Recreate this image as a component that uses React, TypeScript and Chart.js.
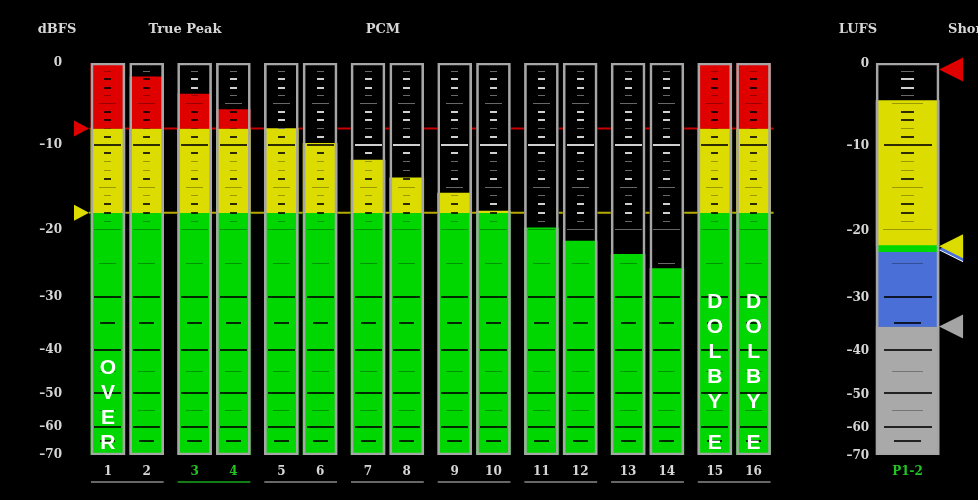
import React, { useEffect, useRef } from 'react';
import { Chart, registerables, LinearScale } from 'chart.js';

// ---------------- data ----------------
const CHANNELS = ['1', '2', '3', '4', '5', '6', '7', '8', '9', '10', '11', '12', '13', '14', '15', '16'];
const CHANNEL_LEVELS = [0, -1.7, -3.8, -5.7, -8, -9.8, -11.8, -13.9, -15.7, -17.8, -19.8, -21.7, -23.7, -25.8, 0, 0];
const CHANNEL_TEXT = ['OVER', '', '', '', '', '', '', '', '', '', '', '', '', '', 'DOLBY E', 'DOLBY E'];
const HIGHLIGHT_CHANNELS = ['3', '4'];
const DB_TICKS = [0, -10, -20, -30, -40, -50, -60, -70];
// meter law: fraction of meter height (from bottom) at each DB_TICKS value
const METER_LAW = [1, 0.791, 0.575, 0.404, 0.268, 0.157, 0.072, 0];
const RED_LIMIT = -8;
const YELLOW_LIMIT = -18;
const METER_FLOOR = -70;
const METER_TOP = 0;
const HEADERS = ['dBFS', 'True Peak', 'PCM', 'LUFS', 'Short Term'];
const LUFS_LABEL = 'P1-2';
const LUFS_BOUNDS = [-70, -35.6, -23.3, -22.3, -4.6];
const LUFS_MARKERS = [-0.8, -22.5, -35.6];
const MARK_DB = [-1, -2, -3, -4, -5, -6, -7, -8, -9, -10, -11, -12, -13, -14, -15, -16, -17, -18, -19, -20, -25, -30, -35, -40, -45, -50, -55, -60, -65];
const MARK_KIND = ['t', 's', 's', 't', 'm', 's', 's', 't', 's', 'L', 's', 't', 't', 's', 'm', 't', 's', 's', 't', 'l', 'm', 'L', 'M', 'L', 'm', 'L', 'm', 'L', 'M'];

// ---------------- styles ----------------
const RED = '#df0000';
const YELLOW = '#dcdc00';
const GREEN = '#00d600';
const BLUE = '#4a70d8';
const GREY = '#a9a9a9';
const LUFS_COLORS = [GREY, BLUE, GREEN, YELLOW];
const MARKER_COLORS = [RED, YELLOW, '#a4a4a4'];
const TEXT = '#d6d6d6';
const TEXT_GREEN = '#22c422';
const SERIF = '"DejaVu Serif", "Liberation Serif", serif';
const CH_W = 34;
const LUFS_W = 63;
const PAIR_STEP = 2.237;
const chPos = (i: number) => Math.floor(i / 2) * PAIR_STEP + (i % 2);
const LUFS_POS = 9 * PAIR_STEP + 0.5;

const X_POSITIONS = [...CHANNELS.map((_, i) => chPos(i)), LUFS_POS];
const X_LABELS = [...CHANNELS, LUFS_LABEL];
const X_COLORS = [...CHANNELS.map((c) => (HIGHLIGHT_CHANNELS.includes(c) ? TEXT_GREEN : TEXT)), TEXT_GREEN];

const KIND_STYLE: Record<string, { w: number; h: number; heavy: boolean }> = {
  L: { w: 0.78, h: 2, heavy: true },
  l: { w: 0.8, h: 1, heavy: false },
  m: { w: 0.5, h: 1, heavy: false },
  M: { w: 0.45, h: 2, heavy: true },
  s: { w: 0.22, h: 2, heavy: true },
  t: { w: 0.22, h: 1, heavy: false },
};

function dbToDecimal(v: number) {
  if (v >= DB_TICKS[0]) return METER_LAW[0];
  for (let i = 1; i < DB_TICKS.length; i++) {
    if (v >= DB_TICKS[i]) {
      const f = (DB_TICKS[i - 1] - v) / (DB_TICKS[i - 1] - DB_TICKS[i]);
      return METER_LAW[i - 1] + f * (METER_LAW[i] - METER_LAW[i - 1]);
    }
  }
  return METER_LAW[METER_LAW.length - 1];
}
function decimalToDb(d: number) {
  for (let i = 1; i < METER_LAW.length; i++) {
    if (d >= METER_LAW[i]) {
      const f = (METER_LAW[i - 1] - d) / (METER_LAW[i - 1] - METER_LAW[i]);
      return DB_TICKS[i - 1] + f * (DB_TICKS[i] - DB_TICKS[i - 1]);
    }
  }
  return DB_TICKS[DB_TICKS.length - 1];
}

class MeterScale extends LinearScale {
  static id = 'meter';
  static defaults = {};
  getPixelForValue(value: any) {
    if (value === null || value === undefined || isNaN(value)) return NaN;
    return this.getPixelForDecimal(dbToDecimal(value));
  }
  getValueForPixel(pixel: number) {
    return decimalToDb(this.getDecimalForPixel(pixel));
  }
}

Chart.register(...registerables, MeterScale);

const dbLabel = (v: number) => (v === 0 ? '0' : '\u2013' + Math.abs(v));

function drawMarks(ctx: CanvasRenderingContext2D, y: any, cx: number, barW: number, fillTop: number) {
  MARK_DB.forEach((db, k) => {
    const st = KIND_STYLE[MARK_KIND[k]];
    const inFill = db < fillTop;
    ctx.fillStyle = inFill
      ? st.heavy ? 'rgba(0,0,0,0.8)' : 'rgba(0,0,0,0.3)'
      : st.heavy ? '#cfcfcf' : '#686868';
    const w = Math.round(barW * st.w);
    const py = Math.round(y.getPixelForValue(db) - st.h / 2);
    ctx.fillRect(Math.round(cx - w / 2), py, w, st.h);
  });
}

const meterPlugin = {
  id: 'meterDecor',
  beforeDatasetsDraw(chart: any) {
    const { ctx, scales: { x, y }, chartArea } = chart;
    const left = chartArea.left + 9;
    const right = x.getPixelForValue(chPos(CHANNELS.length - 1)) + CH_W / 2 + 3;
    const lines: [number, string, string][] = [
      [RED_LIMIT, '#c80000', RED],
      [YELLOW_LIMIT, '#b4aa00', YELLOW],
    ];
    ctx.save();
    lines.forEach(([db, lc, tc]) => {
      const py = y.getPixelForValue(db);
      ctx.strokeStyle = lc;
      ctx.lineWidth = 2;
      ctx.beginPath();
      ctx.moveTo(left, py);
      ctx.lineTo(right, py);
      ctx.stroke();
      ctx.fillStyle = tc;
      ctx.beginPath();
      ctx.moveTo(left, py);
      ctx.lineTo(left - 15, py - 8);
      ctx.lineTo(left - 15, py + 8);
      ctx.closePath();
      ctx.fill();
    });
    ctx.restore();
  },
  afterDatasetsDraw(chart: any) {
    const { ctx, scales: { x, y }, chartArea } = chart;
    ctx.save();
    // scale marks inside meters
    CHANNELS.forEach((_, i) => drawMarks(ctx, y, x.getPixelForValue(chPos(i)), CH_W, CHANNEL_LEVELS[i]));
    const lx = x.getPixelForValue(LUFS_POS);
    drawMarks(ctx, y, lx, LUFS_W - 2, LUFS_BOUNDS[LUFS_BOUNDS.length - 1]);

    // vertical status text
    ctx.fillStyle = '#ffffff';
    ctx.font = 'bold 21px "Liberation Sans", Arial, sans-serif';
    ctx.textAlign = 'center';
    ctx.textBaseline = 'middle';
    CHANNEL_TEXT.forEach((t, i) => {
      if (!t) return;
      const cx = x.getPixelForValue(chPos(i));
      let py = chartArea.bottom - 12;
      t.split('').reverse().forEach((ch) => {
        if (ch === ' ') {
          py -= 16;
        } else {
          ctx.fillText(ch, cx, py);
          py -= 25;
        }
      });
    });

    // LUFS markers (right side)
    const mx = lx + LUFS_W / 2;
    const tri = (db: number, color: string, dy = 0) => {
      const py = y.getPixelForValue(db) + dy;
      ctx.fillStyle = color;
      ctx.beginPath();
      ctx.moveTo(mx, py);
      ctx.lineTo(mx + 24, py - 12);
      ctx.lineTo(mx + 24, py + 12);
      ctx.closePath();
      ctx.fill();
    };
    tri(LUFS_MARKERS[1], '#ffffff', 4);
    tri(LUFS_MARKERS[1], BLUE, 3);
    LUFS_MARKERS.forEach((db, i) => tri(db, MARKER_COLORS[i]));

    // LUFS axis labels
    ctx.font = 'bold 12px ' + SERIF;
    ctx.fillStyle = TEXT;
    ctx.textAlign = 'right';
    ctx.textBaseline = 'middle';
    DB_TICKS.forEach((v) => ctx.fillText(dbLabel(v), lx - LUFS_W / 2 - 7, y.getPixelForValue(v) + 1));

    // headers
    ctx.font = 'bold 13px ' + SERIF;
    ctx.textAlign = 'center';
    const hx = [57, 185, 383, 858];
    HEADERS.forEach((h, i) => {
      if (i < hx.length) ctx.fillText(h, hx[i], 30);
      else {
        ctx.textAlign = 'left';
        ctx.fillText(h, 948, 30);
      }
    });

    // pair underlines
    const uy = chartArea.bottom + 27;
    ctx.lineWidth = 1.5;
    for (let p = 0; p < CHANNELS.length / 2; p++) {
      const a = x.getPixelForValue(chPos(2 * p)) - CH_W / 2;
      const b = x.getPixelForValue(chPos(2 * p + 1)) + CH_W / 2;
      ctx.strokeStyle = HIGHLIGHT_CHANNELS.includes(CHANNELS[2 * p]) ? '#1aa81a' : '#8a8a8a';
      ctx.beginPath();
      ctx.moveTo(a, uy);
      ctx.lineTo(b, uy);
      ctx.stroke();
    }
    ctx.restore();
  },
};

export default function App() {
  const ref = useRef<HTMLCanvasElement>(null);
  useEffect(() => {
    if (!ref.current) return;
    const chData = (lo: number, hiOf: (lvl: number) => number, keep: (lvl: number) => boolean) =>
      CHANNEL_LEVELS.map((lvl, i) => ({ lvl, i }))
        .filter(({ lvl }) => keep(lvl))
        .map(({ lvl, i }) => ({ x: chPos(i), y: [lo, hiOf(lvl)] }));
    const common = { grouped: false, borderSkipped: false as any };
    const chart = new Chart(ref.current, {
      type: 'bar',
      data: {
        datasets: [
          {
            label: 'frame',
            data: CHANNELS.map((_, i) => ({ x: chPos(i), y: [METER_FLOOR, METER_TOP] })),
            backgroundColor: 'rgba(0,0,0,0)',
            borderColor: '#a6a6a6',
            borderWidth: 2,
            barThickness: CH_W,
            ...common,
          },
          {
            label: 'lufsFrame',
            data: [{ x: LUFS_POS, y: [METER_FLOOR, METER_TOP] }],
            backgroundColor: 'rgba(0,0,0,0)',
            borderColor: '#a6a6a6',
            borderWidth: 2,
            barThickness: LUFS_W,
            ...common,
          },
          {
            label: 'red',
            data: chData(RED_LIMIT, (l) => l, (l) => l > RED_LIMIT),
            backgroundColor: RED,
            barThickness: CH_W,
            ...common,
          },
          {
            label: 'yellow',
            data: chData(YELLOW_LIMIT, (l) => Math.min(l, RED_LIMIT), (l) => l > YELLOW_LIMIT),
            backgroundColor: YELLOW,
            barThickness: CH_W,
            ...common,
          },
          {
            label: 'green',
            data: chData(METER_FLOOR, (l) => Math.min(l, YELLOW_LIMIT), () => true),
            backgroundColor: GREEN,
            barThickness: CH_W,
            ...common,
          },
          {
            label: 'lufs',
            data: LUFS_BOUNDS.slice(0, -1).map((lo, k) => ({ x: LUFS_POS, y: [lo, LUFS_BOUNDS[k + 1]] })),
            backgroundColor: LUFS_COLORS,
            barThickness: LUFS_W,
            ...common,
          },
          {
            label: 'back',
            data: CHANNELS.map((_, i) => ({ x: chPos(i), y: [METER_FLOOR, METER_TOP] })),
            backgroundColor: '#000000',
            barThickness: CH_W,
            ...common,
          },
        ],
      },
      options: {
        animation: false,
        responsive: false,
        maintainAspectRatio: false,
        layout: { padding: { top: 63, left: 0, right: 0, bottom: 0 } },
        plugins: { legend: { display: false }, tooltip: { enabled: false } },
        scales: {
          x: {
            type: 'linear',
            min: -0.72,
            max: 22.45,
            offset: false,
            grid: { display: false, drawTicks: false },
            border: { display: false },
            afterBuildTicks: (s: any) => {
              s.ticks = X_POSITIONS.map((v) => ({ value: v }));
            },
            afterFit: (s: any) => {
              s.height = 45;
            },
            ticks: {
              autoSkip: false,
              maxRotation: 0,
              padding: 10,
              font: { family: SERIF, size: 12, weight: 'bold' },
              color: (c: any) => X_COLORS[c.index] || TEXT,
              callback: (_v: any, i: number) => X_LABELS[i],
            },
          },
          y: {
            type: 'meter' as any,
            min: METER_FLOOR,
            max: METER_TOP,
            position: 'left',
            grid: { display: false, drawTicks: false },
            border: { display: false },
            afterBuildTicks: (s: any) => {
              s.ticks = DB_TICKS.map((v) => ({ value: v }));
            },
            afterFit: (s: any) => {
              s.width = 80;
            },
            ticks: {
              autoSkip: false,
              padding: 18,
              font: { family: SERIF, size: 12, weight: 'bold' },
              color: TEXT,
              callback: (v: any) => dbLabel(Number(v)),
            },
          } as any,
        },
      },
      plugins: [meterPlugin],
    });
    return () => chart.destroy();
  }, []);
  return (
    <div style={{ position: 'fixed', left: 0, top: 0, width: 978, height: 500, background: '#000' }}>
      <canvas ref={ref} width={978} height={500} style={{ width: 978, height: 500, display: 'block' }} />
    </div>
  );
}
